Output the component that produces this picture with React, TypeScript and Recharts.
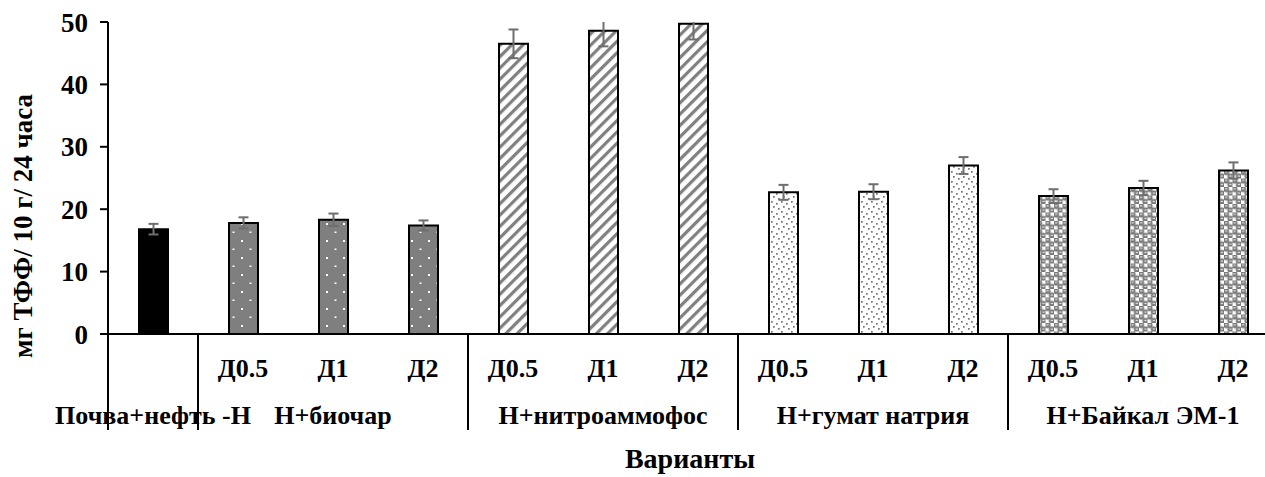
import React from "react";
import { BarChart, Bar, XAxis, YAxis, ErrorBar, Cell, Label } from "recharts";

// dose labels under each bar, and the treatment group each bar belongs to
const doses = ["", "Д0.5", "Д1", "Д2", "Д0.5", "Д1", "Д2", "Д0.5", "Д1", "Д2", "Д0.5", "Д1", "Д2"];
const groups = ["Почва+нефть -Н", "Н+биочар", "Н+нитроаммофос", "Н+гумат натрия", "Н+Байкал ЭМ-1"];
const groupIndex = [0, 1, 1, 1, 2, 2, 2, 3, 3, 3, 4, 4, 4];

// мг ТФФ / 10 г / 24 ч, mean and error
const activity = [16.8, 17.8, 18.3, 17.4, 46.5, 48.6, 49.7, 22.7, 22.8, 27.0, 22.1, 23.4, 26.2];
const activityErr = [0.85, 0.9, 1.0, 0.8, 2.3, 2.5, 2.5, 1.2, 1.2, 1.35, 1.1, 1.15, 1.3];

const yTicks = [0, 10, 20, 30, 40, 50];

const groupFills = ["#000000", "url(#pat-dots)", "url(#pat-stripes)", "url(#pat-stipple)", "url(#pat-spheres)"];

const data = doses.map((d, i) => ({
  key: `${groupIndex[i]}-${d || "control"}`,
  dose: d,
  group: groupIndex[i],
  value: activity[i],
  err: activityErr[i],
}));

const FONT = "'Liberation Serif', 'Times New Roman', serif";

// chart frame; the plot runs past the right edge of the page and is cut there
const W = 1290;
const H = 477;
const M = { top: 22, right: 12, left: 0, bottom: 0 };
const Y_AXIS_W = 108;
const X_AXIS_H = 143;
const plot = {
  x: M.left + Y_AXIS_W,
  y: M.top,
  w: W - M.left - M.right - Y_AXIS_W,
  h: H - M.top - M.bottom - X_AXIS_H,
};

function VariantTick(props: any) {
  const { x, y, payload, index } = props;
  const half = payload && typeof payload.offset === "number" && payload.offset > 0 ? payload.offset : 45;
  const g = groupIndex[index];
  const start = groupIndex.indexOf(g);
  const size = groupIndex.filter((v) => v === g).length;
  const isFirst = index === start;
  const isMiddle = index - start === Math.floor(size / 2);
  return (
    <g>
      {isFirst && (
        <line x1={x - half} x2={x - half} y1={y} y2={y + 96} stroke="#000" strokeWidth={2} />
      )}
      <text x={x} y={y + 43} textAnchor="middle" fontFamily={FONT} fontWeight="bold" fontSize={26} fill="#000">
        {doses[index]}
      </text>
      {isMiddle && (
        <text x={x} y={y + 90} textAnchor="middle" fontFamily={FONT} fontWeight="bold" fontSize={26} fill="#000">
          {groups[g]}
        </text>
      )}
    </g>
  );
}

export default function App() {
  return (
    <div style={{ position: "fixed", left: 0, top: 0, width: 1265, height: 477, overflow: "hidden", background: "#fff" }}>
      {/* error whiskers are cut at the top of the value axis */}
      <style>{`.recharts-errorBar { clip-path: url(#plot-clip); }`}</style>
      <BarChart width={W} height={H} data={data} margin={M}>
        <defs>
          <clipPath id="plot-clip" clipPathUnits="userSpaceOnUse">
            <rect x={plot.x - 20} y={plot.y} width={plot.w + 40} height={plot.h} />
          </clipPath>
          <pattern id="pat-dots" width="17" height="17" patternUnits="userSpaceOnUse">
            <rect width="17" height="17" fill="#7f7f7f" />
            <rect x="3" y="2" width="2" height="2" fill="#fff" />
            <rect x="11.5" y="10.5" width="2" height="1.5" fill="#fff" />
          </pattern>
          <pattern id="pat-stripes" width="8" height="8" patternUnits="userSpaceOnUse" patternTransform="rotate(45)">
            <rect width="8" height="8" fill="#fff" />
            <rect x="0" y="0" width="3.2" height="8" fill="#808080" />
          </pattern>
          <pattern id="pat-stipple" width="10" height="10" patternUnits="userSpaceOnUse">
            <rect width="10" height="10" fill="#fff" />
            <rect x="1" y="1" width="1.7" height="1.7" fill="#737373" />
            <rect x="6" y="3" width="1.7" height="1.7" fill="#737373" />
            <rect x="3" y="6" width="1.7" height="1.7" fill="#737373" />
            <rect x="8" y="8" width="1.7" height="1.7" fill="#737373" />
          </pattern>
          <pattern id="pat-spheres" width="8.5" height="8.5" patternUnits="userSpaceOnUse">
            <rect width="8.5" height="8.5" fill="#fff" />
            <circle cx="2.1" cy="2.1" r="3" fill="#7a7a7a" />
            <circle cx="6.35" cy="6.35" r="3" fill="#7a7a7a" />
            <rect x="1.1" y="1.3" width="2.2" height="1" fill="#fff" />
            <rect x="5.3" y="5.5" width="2.2" height="1" fill="#fff" />
          </pattern>
        </defs>
        <XAxis
          dataKey="key"
          interval={0}
          height={X_AXIS_H}
          tickLine={false}
          tickSize={0}
          tickMargin={0}
          axisLine={{ stroke: "#000", strokeWidth: 2 }}
          tick={<VariantTick />}
        >
          <Label
            content={(p: any) => {
              const vb = p.viewBox || { x: plot.x, y: plot.y + plot.h, width: plot.w, height: X_AXIS_H };
              return (
                <text x={vb.x + vb.width / 2 - 3} y={vb.y + 134} textAnchor="middle" fontFamily={FONT} fontWeight="bold" fontSize={28} fill="#000">
                  Варианты
                </text>
              );
            }}
          />
        </XAxis>
        <YAxis
          width={Y_AXIS_W}
          domain={[0, 50]}
          ticks={yTicks}
          allowDataOverflow
          axisLine={{ stroke: "#000", strokeWidth: 2 }}
          tickLine={{ stroke: "#000", strokeWidth: 2 }}
          tickSize={8}
          tickMargin={12}
          tick={{ fontFamily: FONT, fontWeight: "bold", fontSize: 27, fill: "#000" }}
        >
          <Label
            content={(p: any) => {
              const vb = p.viewBox || { x: 0, y: plot.y, width: Y_AXIS_W, height: plot.h };
              const cx = vb.x + 32;
              const cy = vb.y + vb.height / 2 + 48;
              return (
                <text x={cx} y={cy} transform={`rotate(-90, ${cx}, ${cy})`} textAnchor="middle" fontFamily={FONT} fontWeight="bold" fontSize={27} fill="#000">
                  мг ТФФ/ 10 г/ 24 часа
                </text>
              );
            }}
          />
        </YAxis>
        <Bar dataKey="value" barSize={29} stroke="#000" strokeWidth={2} isAnimationActive={false}>
          {data.map((d) => (
            <Cell key={d.key} fill={groupFills[d.group]} />
          ))}
          <ErrorBar dataKey="err" direction="y" width={5} stroke="#6e6e6e" strokeWidth={2} />
        </Bar>
      </BarChart>
    </div>
  );
}
